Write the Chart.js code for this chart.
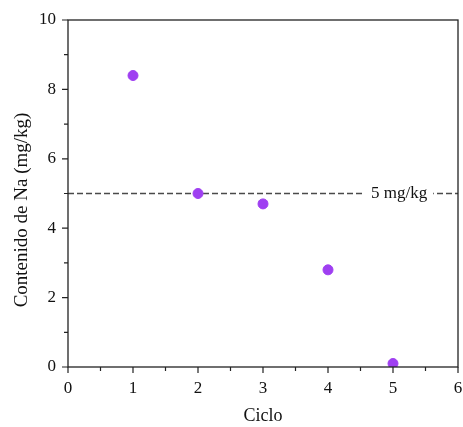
<!DOCTYPE html>
<html>
<head>
<meta charset="utf-8">
<script src="https://cdn.jsdelivr.net/npm/chart.js@4"></script>
<style>
  html, body { margin: 0; padding: 0; background: #fff; }
  #wrap { width: 463px; height: 427px; }
</style>
</head>
<body>
<div id="wrap"><canvas id="naChart"></canvas></div>
<script>
// data
const ciclos = [1, 2, 3, 4, 5];
const sodio = [8.4, 5.0, 4.7, 2.8, 0.1];
const limite = 5;
const limiteLabel = '5 mg/kg';
const yTitle = 'Contenido de Na (mg/kg)';
const xRange = [0, 6];
const yRange = [0, 10];

const FONT = '"Liberation Serif", "Times New Roman", serif';

// frame, outward ticks (major + minor), y title and limit label
const framePlugin = {
    id: 'frame',
    afterDraw(chart) {
        const { ctx, chartArea: a, scales } = chart;
        ctx.save();
        ctx.strokeStyle = '#222';
        ctx.lineWidth = 1.3;
        ctx.strokeRect(a.left, a.top, a.right - a.left, a.bottom - a.top);

        ctx.lineWidth = 1.2;
        ctx.beginPath();
        for (let v = xRange[0]; v <= xRange[1] + 1e-9; v += 0.5) {
            const x = scales.x.getPixelForValue(v);
            const len = Number.isInteger(v) ? 6 : 4;
            ctx.moveTo(x, a.bottom);
            ctx.lineTo(x, a.bottom + len);
        }
        for (let v = yRange[0]; v <= yRange[1]; v += 1) {
            const y = scales.y.getPixelForValue(v);
            const len = v % 2 === 0 ? 6 : 4;
            ctx.moveTo(a.left, y);
            ctx.lineTo(a.left - len, y);
        }
        ctx.stroke();

        // y axis title (sits a bit below the plot centre in the original)
        ctx.fillStyle = '#111';
        ctx.font = '19px ' + FONT;
        ctx.textAlign = 'center';
        ctx.textBaseline = 'middle';
        ctx.translate(22, 210);
        ctx.rotate(-Math.PI / 2);
        ctx.fillText(yTitle, 0, 0);
        ctx.setTransform(1, 0, 0, 1, 0, 0);

        // label over the dashed line
        const ly = scales.y.getPixelForValue(limite);
        ctx.font = '17px ' + FONT;
        ctx.textAlign = 'left';
        const tw = ctx.measureText(limiteLabel).width;
        const lx = 371;
        ctx.fillStyle = '#fff';
        ctx.fillRect(lx - 9, ly - 8, tw + 15, 16);
        ctx.fillStyle = '#111';
        ctx.fillText(limiteLabel, lx, ly);
        ctx.restore();
    }
};

new Chart(document.getElementById('naChart'), {
    type: 'scatter',
    data: {
        datasets: [
            {
                label: 'Na',
                data: ciclos.map((c, i) => ({ x: c, y: sodio[i] })),
                backgroundColor: '#9f3ff1',
                borderColor: '#9f3ff1',
                pointRadius: 5,
                order: 1
            },
            {
                label: 'limite',
                type: 'line',
                data: [{ x: xRange[0], y: limite }, { x: xRange[1], y: limite }],
                borderColor: '#4a4a4a',
                borderWidth: 1.4,
                borderDash: [6, 3],
                pointRadius: 0,
                order: 2
            }
        ]
    },
    options: {
        responsive: true,
        maintainAspectRatio: false,
        animation: false,
        layout: { autoPadding: false, padding: { top: 20, right: 5, left: 0, bottom: 0 } },
        plugins: { legend: { display: false }, tooltip: { enabled: false } },
        scales: {
            x: {
                type: 'linear',
                min: xRange[0],
                max: xRange[1],
                grid: { display: false },
                border: { display: false },
                ticks: { stepSize: 1, color: '#111', padding: 3, font: { family: FONT, size: 17 } },
                title: { display: true, text: 'Ciclo', color: '#111', font: { family: FONT, size: 18 }, padding: { top: 4, bottom: 0 } },
                afterFit(scale) {
                    scale.height = 60;
                    scale.paddingLeft = 0;
                    scale.paddingRight = 0;
                }
            },
            y: {
                min: yRange[0],
                max: yRange[1],
                grid: { display: false },
                border: { display: false },
                ticks: { stepSize: 2, color: '#111', padding: 4, font: { family: FONT, size: 17 } },
                afterFit(scale) { scale.width = 68; }
            }
        }
    },
    plugins: [framePlugin]
});
</script>
</body>
</html>
